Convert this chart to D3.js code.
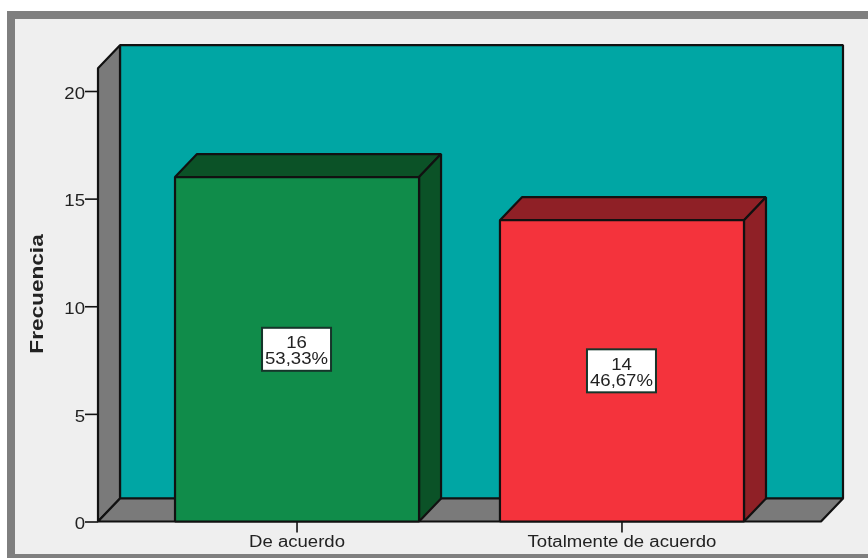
<!DOCTYPE html>
<html><head><meta charset="utf-8">
<script src="https://cdn.jsdelivr.net/npm/d3@7/dist/d3.min.js"></script>
<style>html,body{margin:0;padding:0;background:#fff}svg{display:block;filter:blur(.4px)}text{font-family:"Liberation Sans",Arial,sans-serif;fill:#222}</style>
</head><body><svg id="c" width="868" height="558"></svg>
<script>
const categories = ["De acuerdo", "Totalmente de acuerdo"];
const frequencies = [16, 14];
const percentLabels = ["53,33%", "46,67%"];
const yTicks = [0, 5, 10, 15, 20];
const yTitle = "Frecuencia";
const barFront = ["#108c4a", "#f4333c"];
const barTop = ["#0b5227", "#8f2026"];
const barSide = ["#0b5227", "#8f2026"];

const W = 868, H = 558, dx = 22, dy = 23;
const svg = d3.select("#c");
const y = d3.scaleLinear().domain([0, 20]).range([521.5, 91]);
const x = d3.scaleBand().domain(categories).range([98, 821]).paddingInner(0.249).paddingOuter(0.237);
const yMax = 21.06, y0 = y(0), yT = y(yMax), xL = x.range()[0], xR = x.range()[1];
const ink = "#111";
const stretch = (sel, k) => sel.each(function () {
  this.setAttribute("textLength", this.getComputedTextLength() * k);
  this.setAttribute("lengthAdjust", "spacingAndGlyphs");
});

svg.append("rect").attr("width", W).attr("height", H).attr("fill", "#fff");
svg.append("rect").attr("x", 7).attr("y", 11).attr("width", W - 7).attr("height", H - 11).attr("fill", "#7f7f7f");
svg.append("rect").attr("x", 15).attr("y", 19).attr("width", W - 15).attr("height", 535).attr("fill", "#efefef");

const poly = (pts, fill) => svg.append("path").attr("d", "M" + pts.map(p => p.join(",")).join("L") + "Z")
  .attr("fill", fill).attr("stroke", ink).attr("stroke-width", 2.2).attr("stroke-linejoin", "bevel");

poly([[xL + dx, yT - dy], [xR + dx, yT - dy], [xR + dx, y0 - dy], [xL + dx, y0 - dy]], "#00a6a4");
poly([[xL, yT], [xL + dx, yT - dy], [xL + dx, y0 - dy], [xL, y0]], "#7a7a7a");
poly([[xL, y0], [xL + dx, y0 - dy], [xR + dx, y0 - dy], [xR, y0]], "#7a7a7a");

categories.forEach((c, i) => {
  const v = frequencies[i], l = x(c), r = l + x.bandwidth(), t = y(v);
  poly([[l, t], [l + dx, t - dy], [r + dx, t - dy], [r, t]], barTop[i]);
  poly([[r, t], [r + dx, t - dy], [r + dx, y0 - dy], [r, y0]], barSide[i]);
  poly([[l, t], [r, t], [r, y0], [l, y0]], barFront[i]);
  const cx = l + x.bandwidth() / 2 - 0.5, cy = y(v / 2);
  svg.append("rect").attr("x", cx - 34.5).attr("y", cy - 21.5).attr("width", 69).attr("height", 43)
    .attr("fill", "#fff").attr("stroke", "#16352a").attr("stroke-width", 2);
  svg.append("text").attr("x", cx).attr("y", cy - 1).attr("text-anchor", "middle").attr("font-size", 16).text(v).call(stretch, 1.16);
  svg.append("text").attr("x", cx).attr("y", cy + 15).attr("text-anchor", "middle").attr("font-size", 16).text(percentLabels[i]).call(stretch, 1.16);
});

const yAxis = d3.axisLeft(y).tickValues(yTicks).tickSize(13).tickPadding(0).tickSizeOuter(0);
const gy = svg.append("g").attr("transform", `translate(${xL},0)`).call(yAxis);
gy.select(".domain").remove();
gy.selectAll("line").attr("stroke", ink).attr("stroke-width", 1.6);
gy.selectAll("text").attr("font-size", 16).attr("dy", "0.45em").style("fill", "#222").call(stretch, 1.16);

const xAxis = d3.axisBottom(x).tickSize(11).tickPadding(3).tickSizeOuter(0);
const gx = svg.append("g").attr("transform", `translate(0,${y0})`).call(xAxis);
gx.select(".domain").remove();
gx.selectAll("line").attr("stroke", ink).attr("stroke-width", 1.6);
gx.selectAll("text").attr("font-size", 16).style("fill", "#222").call(stretch, 1.16);

svg.append("text").attr("transform", "translate(43,294) rotate(-90)").attr("text-anchor", "middle")
  .attr("font-size", 19).attr("font-weight", "bold").text(yTitle).call(stretch, 1.19);
</script></body></html>
